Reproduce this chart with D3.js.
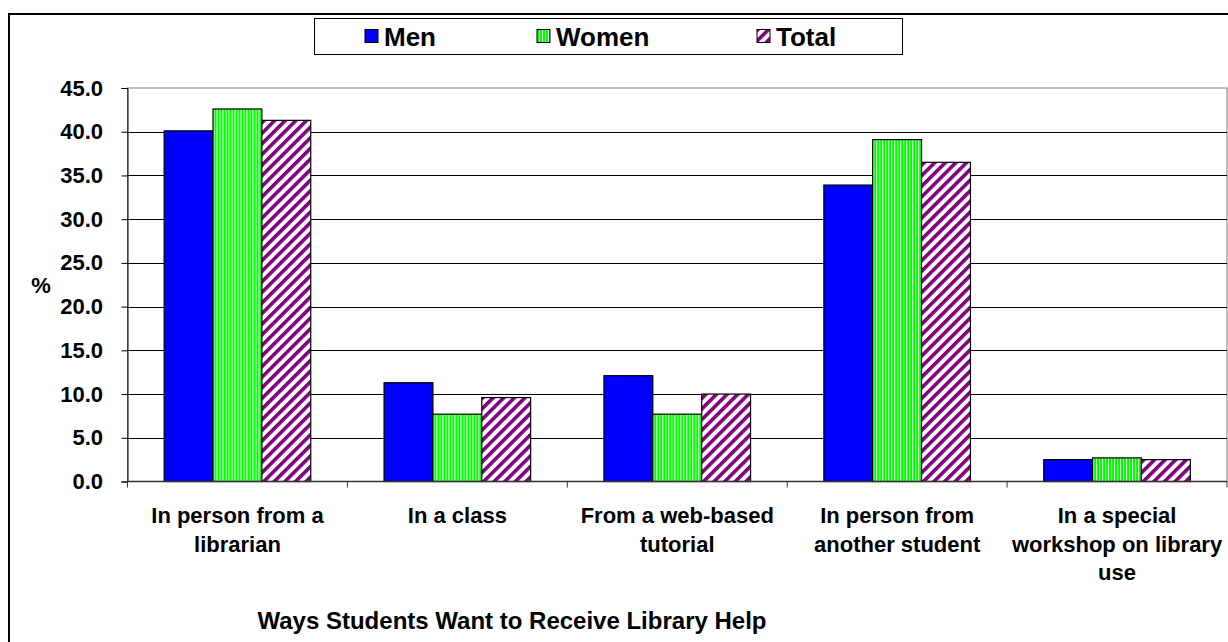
<!DOCTYPE html>
<html><head><meta charset="utf-8">
<script src="https://cdn.jsdelivr.net/npm/d3@7"></script>
<style>
body{margin:0;background:#fff}
svg{display:block}
text{font-family:"Liberation Sans",Arial,sans-serif;font-weight:bold;fill:#000}
</style>
</head><body>
<svg id="c" width="1228" height="642"></svg>
<script>
const categories = ["In person from a librarian","In a class","From a web-based tutorial","In person from another student","In a special workshop on library use"];
const categoryLines = [["In person from a","librarian"],["In a class"],["From a web-based","tutorial"],["In person from","another student"],["In a special","workshop on library","use"]];
const seriesNames = ["Men","Women","Total"];
const men = [40.1, 11.3, 12.1, 33.9, 2.5];
const women = [42.6, 7.7, 7.7, 39.1, 2.7];
const total = [41.3, 9.6, 10.0, 36.5, 2.5];
const yTicks = [0,5,10,15,20,25,30,35,40,45];
const yTitle = "%";
const xTitle = "Ways Students Want to Receive Library Help";

const seriesValues = {Men: men, Women: women, Total: total};
const svg = d3.select("#c");
const L = 127.5, R = 1227, T = 88, B = 481.5;

// patterns
const defs = svg.append("defs");
const pw = defs.append("pattern").attr("id","pWomen").attr("patternUnits","userSpaceOnUse").attr("width",3).attr("height",3);
pw.append("rect").attr("width",3).attr("height",3).attr("fill","#e6ffe6");
pw.append("rect").attr("width",2).attr("height",3).attr("fill","#00ff00");
const pt = defs.append("pattern").attr("id","pTotal").attr("patternUnits","userSpaceOnUse").attr("width",7.5).attr("height",7.5).attr("patternTransform","rotate(45)");
pt.append("rect").attr("width",7.5).attr("height",7.5).attr("fill","#ffffff");
pt.append("rect").attr("width",3.6).attr("height",7.5).attr("fill","#800080");
const fills = {Men:"#0000ff", Women:"url(#pWomen)", Total:"url(#pTotal)"};

// outer chart border
svg.append("path").attr("d",`M9,642 L9,14 L1228,14`).attr("fill","none").attr("stroke","#000").attr("stroke-width",2);

const x0 = d3.scaleBand().domain(categories).range([L,R]);
const bw = x0.bandwidth();
const x1 = d3.scaleBand().domain(seriesNames).range([bw/6, bw*5/6]);
const y = d3.scaleLinear().domain([0,45]).range([B,T]);

// plot border
svg.append("rect").attr("x",L).attr("y",T).attr("width",R-L).attr("height",B-T).attr("fill","none").attr("stroke","#808080").attr("stroke-width",1);

// gridlines
svg.append("g").selectAll("line").data(yTicks.filter(d=>d>0 && d<45)).join("line")
  .attr("x1",L).attr("x2",R).attr("y1",d=>Math.round(y(d))+0.5).attr("y2",d=>Math.round(y(d))+0.5)
  .attr("stroke","#000").attr("stroke-width",1);

// bars
const groups = svg.append("g").selectAll("g").data(categories).join("g")
  .attr("transform",d=>`translate(${x0(d)},0)`);
groups.selectAll("rect").data((d,i)=>seriesNames.map(s=>({s, v:seriesValues[s][i]}))).join("rect")
  .attr("x",d=>x1(d.s)).attr("width",x1.bandwidth())
  .attr("y",d=>y(d.v)).attr("height",d=>B-y(d.v))
  .attr("fill",d=>fills[d.s]).attr("stroke","#000").attr("stroke-width",1.2);

// y axis
const yAxis = svg.append("g").attr("transform",`translate(${L},0)`)
  .call(d3.axisLeft(y).tickValues(yTicks).tickSize(6).tickPadding(18.5).tickFormat(d3.format(".1f")));
yAxis.select(".domain").attr("stroke","#000");
yAxis.selectAll("line").attr("stroke","#000");
yAxis.selectAll("text").attr("font-size",22).attr("font-family",null).attr("fill","#000");

// x axis
const xAxis = svg.append("g").attr("transform",`translate(0,${B})`);
xAxis.append("line").attr("x1",L).attr("x2",R).attr("stroke","#333").attr("stroke-width",1.5);
xAxis.selectAll("line.t").data(d3.range(categories.length+1)).join("line").attr("class","t")
  .attr("x1",i=>L+i*bw).attr("x2",i=>L+i*bw).attr("y1",0).attr("y2",6).attr("stroke","#333");

// category labels
const lbl = svg.append("g").selectAll("text").data(categories).join("text")
  .attr("text-anchor","middle").attr("font-size",22)
  .attr("x",d=>x0(d)+bw/2).attr("y",523);
lbl.selectAll("tspan").data((d,i)=>categoryLines[i]).join("tspan")
  .attr("x",function(){return this.parentNode.getAttribute("x");})
  .attr("dy",(d,i)=>i===0?0:28.5).text(d=>d);

// titles
svg.append("text").attr("x",41).attr("y",293).attr("text-anchor","middle").attr("font-size",22).text(yTitle);
svg.append("text").attr("x",512).attr("y",629).attr("text-anchor","middle").attr("font-size",24).text(xTitle);

// legend
const lg = svg.append("g");
lg.append("rect").attr("x",314.5).attr("y",18.5).attr("width",588).attr("height",36).attr("fill","#fff").attr("stroke","#000").attr("stroke-width",1);
const legX = [365, 537, 757];
seriesNames.forEach((s,i)=>{
  lg.append("rect").attr("x",legX[i]).attr("y",29.5).attr("width",13).attr("height",13).attr("fill",fills[s]).attr("stroke","#000").attr("stroke-width",1);
  lg.append("text").attr("x",legX[i]+19).attr("y",45.5).attr("font-size",26).text(s);
});
</script>
</body></html>
